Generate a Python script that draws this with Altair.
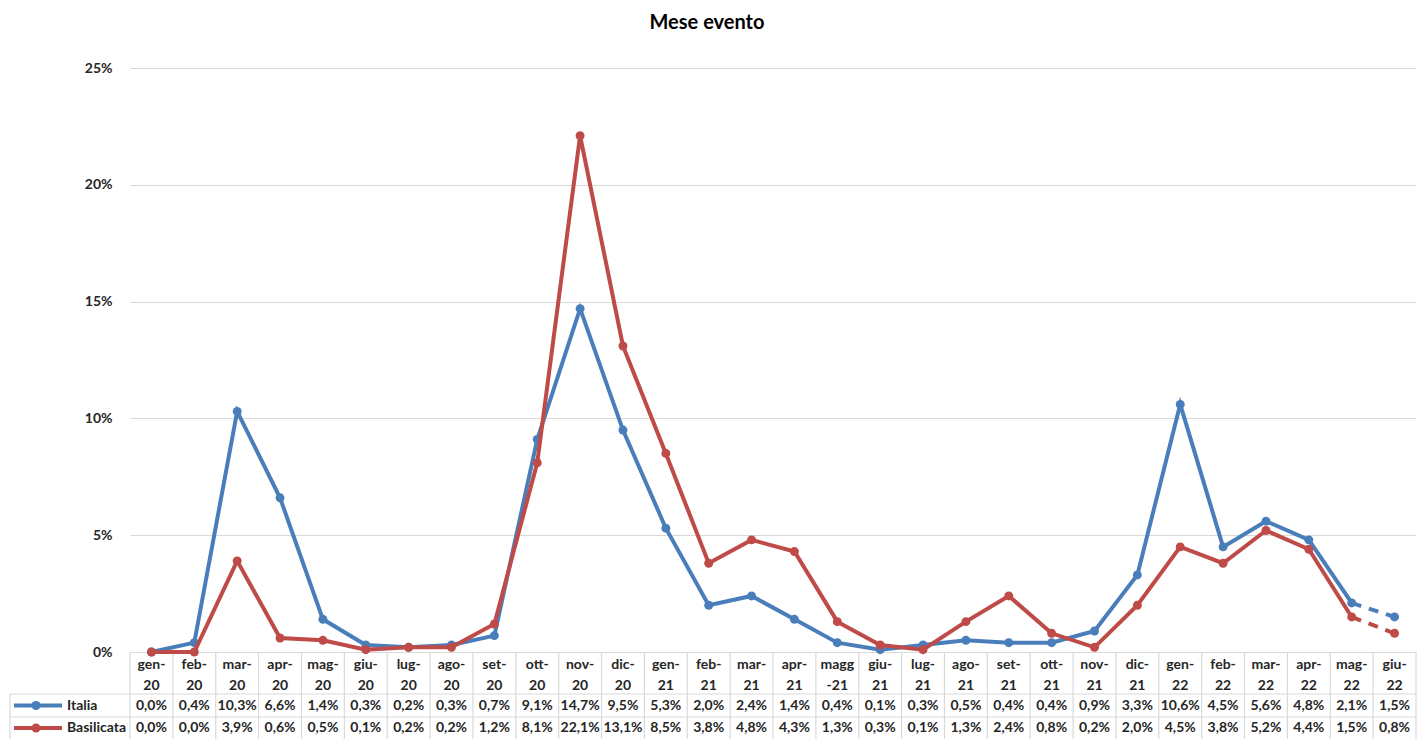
import altair as alt
import pandas as pd

TITLE = "Mese evento"
CATEGORIES = ["gen-20", "feb-20", "mar-20", "apr-20", "mag-20", "giu-20", "lug-20", "ago-20",
              "set-20", "ott-20", "nov-20", "dic-20", "gen-21", "feb-21", "mar-21", "apr-21",
              "magg-21", "giu-21", "lug-21", "ago-21", "set-21", "ott-21", "nov-21", "dic-21",
              "gen-22", "feb-22", "mar-22", "apr-22", "mag-22", "giu-22"]
ITALIA = [0.0, 0.4, 10.3, 6.6, 1.4, 0.3, 0.2, 0.3, 0.7, 9.1, 14.7, 9.5, 5.3, 2.0, 2.4, 1.4,
          0.4, 0.1, 0.3, 0.5, 0.4, 0.4, 0.9, 3.3, 10.6, 4.5, 5.6, 4.8, 2.1, 1.5]
BASILICATA = [0.0, 0.0, 3.9, 0.6, 0.5, 0.1, 0.2, 0.2, 1.2, 8.1, 22.1, 13.1, 8.5, 3.8, 4.8, 4.3,
              1.3, 0.3, 0.1, 1.3, 2.4, 0.8, 0.2, 2.0, 4.5, 3.8, 5.2, 4.4, 1.5, 0.8]
SERIES = ["Italia", "Basilicata"]
COLORS = ["#4A7EBB", "#BE4B48"]
Y_TICKS = [0, 5, 10, 15, 20, 25]

# layout
W, H = 1286, 584
PAD = {"left": 122, "top": 60, "right": 1, "bottom": 87}
BOTTOM = H + PAD["bottom"]          # svg bottom relative to plot origin
ROW_TOP = [626, 649]                 # table row tops (relative)
ROW_Y = [637.5, 660]                 # table row text centres (relative)
FONT = "Lato"
GRID = "#d9d9d9"
TEXT = "#262626"
LW = 4
MS = 80


def wrap(c):
    a, b = c.split("-")
    return a + "\n-" + b if len(a) > 3 else a + "-\n" + b


rows = []
for s, vals in zip(SERIES, [ITALIA, BASILICATA]):
    for i, (c, v) in enumerate(zip(CATEGORIES, vals)):
        rows.append({"cat": c, "idx": i, "series": s, "value": v,
                     "label": f"{v:.1f}%".replace(".", ",")})
df = pd.DataFrame(rows)
cats_df = pd.DataFrame({"cat": CATEGORIES, "header": [wrap(c) for c in CATEGORIES]})
one = pd.DataFrame({"k": [0]})

xscale = alt.Scale(type="band", domain=CATEGORIES, paddingInner=0, paddingOuter=0)
X = alt.X("cat:N", scale=xscale, axis=None)
Y = alt.Y("value:Q", scale=alt.Scale(domain=[0, 25], nice=False),
          axis=alt.Axis(values=Y_TICKS, labelExpr="datum.value + '%'", grid=True,
                        gridColor=GRID, gridWidth=1.2, domain=False, ticks=False,
                        labelPadding=18, labelFont=FONT, labelFontSize=14,
                        labelFontWeight="bold", labelColor=TEXT, title=None))
color = alt.Color("series:N", scale=alt.Scale(domain=SERIES, range=COLORS), legend=None)

layers = []

# table grid
layers.append(alt.Chart(cats_df).mark_rule(color=GRID, strokeWidth=1.2).encode(
    x=alt.X("cat:N", scale=xscale, axis=None, bandPosition=0),
    y=alt.value(H), y2=alt.value(BOTTOM)))
layers.append(alt.Chart(one).mark_rule(color=GRID, strokeWidth=1.2).encode(
    x=alt.value(W), y=alt.value(H), y2=alt.value(BOTTOM)))
layers.append(alt.Chart(one).mark_rule(color=GRID, strokeWidth=1.2).encode(
    x=alt.value(-120), y=alt.value(ROW_TOP[0]), y2=alt.value(BOTTOM)))
for ry in ROW_TOP:
    layers.append(alt.Chart(one).mark_rule(color=GRID, strokeWidth=1.2).encode(
        x=alt.value(-120), x2=alt.value(W), y=alt.value(ry)))

# header labels
layers.append(alt.Chart(cats_df).mark_text(
    lineBreak="\n", baseline="top", lineHeight=21, font=FONT, fontSize=14,
    fontWeight="bold", color=TEXT).encode(x=X, y=alt.value(H + 6), text="header:N"))

# lines
for s in SERIES:
    base = alt.Chart(df).transform_filter(alt.datum.series == s)
    layers.append(base.transform_filter(alt.datum.idx <= 28).mark_line(strokeWidth=LW).encode(
        x=X, y=Y, color=color))
    layers.append(base.transform_filter(alt.datum.idx >= 28).mark_line(
        strokeWidth=LW, strokeDash=[10, 8]).encode(x=X, y=Y, color=color))
    layers.append(base.mark_point(filled=True, size=MS, opacity=1).encode(
        x=X, y=Y, color=color))

# data table rows with legend keys
for s, col, ry in zip(SERIES, COLORS, ROW_Y):
    d = alt.Chart(df).transform_filter(alt.datum.series == s)
    layers.append(d.mark_text(font=FONT, fontSize=14, fontWeight="bold", color=TEXT,
                              baseline="middle").encode(x=X, y=alt.value(ry), text="label:N"))
    layers.append(alt.Chart(one).mark_rule(color=col, strokeWidth=LW).encode(
        x=alt.value(-116), x2=alt.value(-68), y=alt.value(ry)))
    layers.append(alt.Chart(one).mark_point(filled=True, size=MS, opacity=1, color=col).encode(
        x=alt.value(-94), y=alt.value(ry)))
    layers.append(alt.Chart(one).mark_text(font=FONT, fontSize=14, fontWeight="bold",
                                           color=TEXT, align="left", baseline="middle").encode(
        x=alt.value(-63), y=alt.value(ry), text=alt.value(s)))

chart = alt.layer(*layers).properties(
    width=W, height=H, padding=PAD,
    autosize=alt.AutoSizeParams(type="none"),
    background="white",
    title=alt.TitleParams(TITLE, anchor="middle", dx=-66, offset=28, font=FONT,
                          fontSize=20, fontWeight="bold", color="#000000"),
).configure_view(stroke=None)

chart.save("out.html", embed_options={"renderer": "svg", "actions": False})
